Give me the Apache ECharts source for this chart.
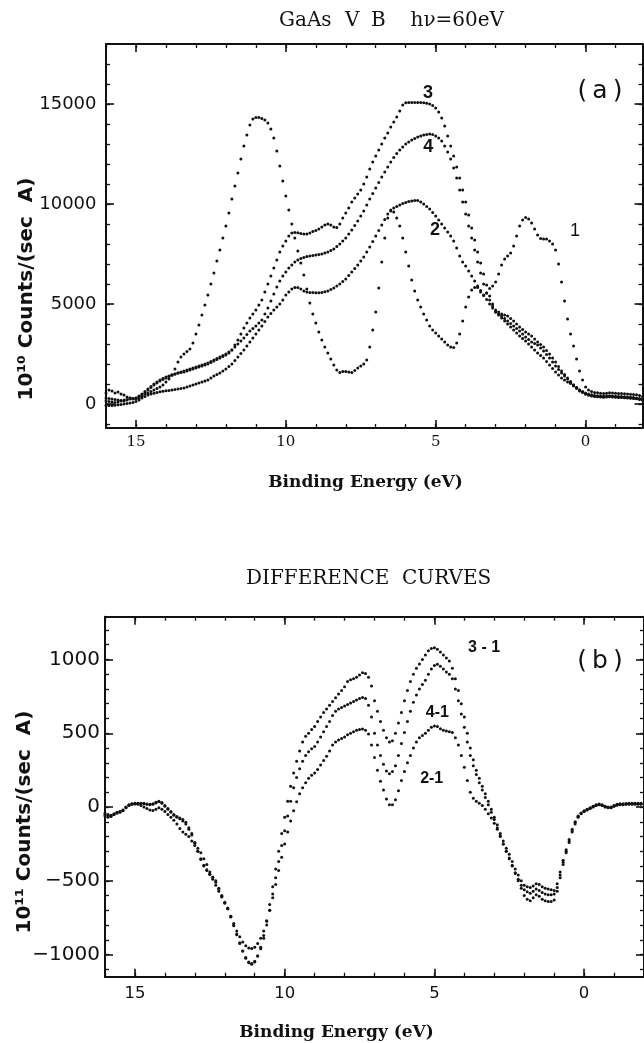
<!DOCTYPE html>
<html><head><meta charset="utf-8">
<script src="https://cdn.jsdelivr.net/npm/echarts@6/dist/echarts.min.js"></script>
<style>html,body{margin:0;padding:0;background:#fff}#chart{width:644px;height:1043px}</style>
</head><body><div id="chart"></div>
<script>
// Binding energy grid (eV), shared by every curve
const energy = [
 16.0,15.9,15.8,15.7,15.6,15.5,15.4,15.3,15.2,15.1,
 15.0,14.9,14.8,14.7,14.6,14.5,14.4,14.3,14.2,14.1,
 14.0,13.9,13.8,13.7,13.6,13.5,13.4,13.3,13.2,13.1,
 13.0,12.9,12.8,12.7,12.6,12.5,12.4,12.3,12.2,12.1,
 12.0,11.9,11.8,11.7,11.6,11.5,11.4,11.3,11.2,11.1,
 11.0,10.9,10.8,10.7,10.6,10.5,10.4,10.3,10.2,10.1,
 10.0,9.9,9.8,9.7,9.6,9.5,9.4,9.3,9.2,9.1,
 9.0,8.9,8.8,8.7,8.6,8.5,8.4,8.3,8.2,8.1,
 8.0,7.9,7.8,7.7,7.6,7.5,7.4,7.3,7.2,7.1,
 7.0,6.9,6.8,6.7,6.6,6.5,6.4,6.3,6.2,6.1,
 6.0,5.9,5.8,5.7,5.6,5.5,5.4,5.3,5.2,5.1,
 5.0,4.9,4.8,4.7,4.6,4.5,4.4,4.3,4.2,4.1,
 4.0,3.9,3.8,3.7,3.6,3.5,3.4,3.3,3.2,3.1,
 3.0,2.9,2.8,2.7,2.6,2.5,2.4,2.3,2.2,2.1,
 2.0,1.9,1.8,1.7,1.6,1.5,1.4,1.3,1.2,1.1,
 1.0,0.9,0.8,0.7,0.6,0.5,0.4,0.3,0.2,0.1,
 0.0,-0.1,-0.2,-0.3,-0.4,-0.5,-0.6,-0.7,-0.8,-0.9,
 -1.0,-1.1,-1.2,-1.3,-1.4,-1.5,-1.6,-1.7,-1.8,-1.9];

// (a) spectra, 10^10 counts/(sec A)
const curve1 = [
 550,700,650,550,600,500,450,350,300,250,
 300,380,450,500,550,620,700,780,850,950,
 1100,1250,1450,1750,2100,2350,2500,2620,2750,3050,
 3500,3950,4450,4950,5450,6000,6550,7150,7700,8300,
 8900,9550,10250,10900,11550,12250,12900,13450,13950,14250,
 14330,14320,14280,14200,14050,13750,13300,12650,11900,11150,
 10400,9700,9000,8300,7650,7050,6450,5750,5050,4500,
 4050,3600,3200,2850,2550,2250,1950,1700,1580,1620,
 1630,1600,1580,1680,1800,1900,2000,2200,2850,3700,
 4600,5800,7100,8300,9300,9700,9600,9300,8900,8300,
 7600,6900,6200,5650,5200,4850,4500,4200,3900,3700,
 3550,3400,3250,3100,2950,2850,2830,3050,3500,4150,
 4850,5350,5700,5830,5830,5600,5420,5550,5780,5900,
 6100,6500,6950,7250,7400,7550,7900,8400,8900,9200,
 9330,9250,9050,8750,8450,8280,8250,8250,8150,8000,
 7700,7000,6100,5150,4250,3500,2900,2250,1650,1200,
 850,700,620,580,560,540,520,540,560,550,
 540,530,520,510,500,490,480,460,430,380];
const curve2 = [
 -80,-80,-70,-60,-40,-20,0,20,50,80,
 120,200,300,380,450,500,540,580,610,640,
 660,680,700,720,750,780,800,850,900,950,
 1000,1050,1100,1150,1200,1300,1400,1480,1550,1650,
 1750,1870,2000,2170,2350,2520,2700,2900,3100,3300,
 3500,3700,3900,4120,4350,4520,4700,4850,5000,5200,
 5450,5600,5750,5830,5830,5750,5650,5600,5580,5570,
 5560,5560,5580,5610,5650,5720,5800,5900,6000,6120,
 6250,6420,6600,6770,6950,7150,7350,7600,7850,8120,
 8400,8680,8950,9230,9500,9650,9800,9880,9950,10020,
 10080,10120,10150,10180,10180,10100,10000,9880,9750,9580,
 9400,9200,9000,8800,8600,8400,8150,7800,7400,7100,
 6900,6650,6400,6150,5900,5680,5450,5220,5000,4800,
 4600,4450,4300,4150,4000,3850,3700,3550,3400,3280,
 3150,3000,2850,2700,2550,2420,2300,2120,1950,1780,
 1600,1450,1300,1200,1100,1020,950,820,700,600,
 500,450,400,380,360,350,340,350,360,350,
 340,330,320,310,300,290,280,260,230,200];
const curve3 = [
 300,280,250,220,200,170,150,200,300,280,
 250,300,400,550,700,820,950,1050,1150,1230,
 1300,1380,1450,1500,1550,1580,1600,1650,1700,1750,
 1800,1850,1900,1950,2000,2080,2150,2220,2300,2380,
 2450,2550,2700,2950,3200,3500,3800,4050,4300,4500,
 4700,4950,5200,5600,6000,6400,6800,7200,7600,7900,
 8150,8400,8550,8580,8560,8520,8500,8500,8550,8620,
 8680,8750,8850,8950,9000,8950,8850,8830,9000,9300,
 9550,9800,10100,10300,10500,10700,11000,11350,11750,12100,
 12400,12700,13000,13300,13550,13850,14100,14350,14650,14950,
 15060,15080,15080,15080,15080,15070,15060,15040,15000,14920,
 14800,14600,14300,13900,13400,12900,12400,11850,11300,10700,
 10100,9450,8800,8200,7600,7050,6500,5950,5400,5000,
 4600,4500,4400,4280,4150,4030,3900,3780,3650,3500,
 3350,3220,3100,3030,2950,2800,2650,2480,2300,2100,
 1900,1720,1550,1400,1250,1070,900,780,650,570,
 500,450,420,400,380,370,360,370,380,370,
 360,350,340,330,320,310,300,280,250,220];
const curve4 = [
 150,130,100,80,100,150,200,230,250,280,
 300,400,500,620,750,880,1000,1100,1200,1280,
 1350,1400,1450,1500,1550,1600,1650,1700,1750,1800,
 1850,1900,1950,2000,2050,2120,2200,2270,2350,2420,
 2500,2600,2700,2850,3000,3150,3300,3480,3650,3780,
 3900,4050,4200,4500,4800,5150,5500,5850,6150,6400,
 6600,6800,6950,7100,7200,7280,7330,7370,7400,7430,
 7450,7470,7500,7550,7600,7670,7750,7870,8000,8150,
 8300,8500,8700,8920,9150,9400,9650,9950,10250,10530,
 10800,11080,11350,11600,11850,12100,12330,12520,12700,12850,
 13000,13100,13200,13280,13350,13400,13450,13480,13500,13470,
 13400,13300,13150,12900,12600,12250,11800,11300,10700,10100,
 9500,8900,8300,7700,7100,6550,6000,5550,5200,4900,
 4700,4600,4500,4450,4400,4280,4150,4000,3850,3720,
 3600,3500,3400,3250,3100,2980,2850,2680,2500,2300,
 2100,1880,1650,1470,1300,1120,950,820,700,620,
 550,500,460,430,410,400,390,400,410,400,
 390,380,370,360,350,340,320,300,280,250];

// (b) difference curves, 10^11 counts/(sec A)
const diff31 = [
 -40,-50,-55,-45,-35,-30,-20,0,15,22,
 25,26,26,25,20,18,22,32,40,30,
 10,-10,-30,-50,-65,-75,-85,-103,-140,-180,
 -240,-300,-355,-400,-430,-455,-475,-500,-550,-600,
 -645,-685,-740,-800,-860,-920,-975,-1025,-1055,-1065,
 -1050,-1010,-950,-870,-770,-660,-540,-420,-300,-180,
 -70,40,140,230,310,380,440,480,500,525,
 545,580,610,640,665,690,715,740,766,790,
 815,850,862,870,880,895,910,905,880,820,
 720,650,580,520,470,440,450,500,570,640,
 720,790,850,900,940,970,1000,1030,1060,1075,
 1080,1070,1050,1030,1010,990,940,870,790,700,
 610,500,400,320,250,195,140,90,40,-15,
 -70,-120,-180,-230,-280,-320,-370,-420,-460,-500,
 -530,-540,-545,-535,-520,-525,-540,-550,-555,-560,
 -565,-520,-440,-360,-290,-220,-150,-100,-60,-40,
 -25,-15,-5,5,15,20,15,5,0,0,
 10,18,22,22,24,25,25,25,25,25];
const diff41 = [
 -50,-60,-60,-50,-40,-32,-22,-3,12,20,
 22,24,24,22,18,15,18,28,36,25,
 5,-15,-35,-55,-70,-80,-95,-115,-150,-190,
 -245,-300,-350,-395,-425,-455,-480,-510,-555,-605,
 -650,-690,-745,-805,-865,-925,-975,-1020,-1050,-1060,
 -1045,-1010,-960,-890,-800,-700,-590,-480,-370,-260,
 -160,-60,40,130,200,260,310,350,375,395,
 410,440,475,510,545,580,620,650,665,675,
 685,695,705,715,725,735,743,735,690,610,
 500,420,350,290,245,225,240,280,350,430,
 505,580,650,710,760,800,830,860,900,935,
 960,968,955,935,915,900,870,800,720,630,
 540,440,350,280,220,165,115,65,15,-35,
 -85,-140,-195,-250,-300,-345,-395,-445,-490,-530,
 -560,-575,-585,-570,-555,-565,-580,-590,-595,-595,
 -590,-545,-460,-375,-300,-230,-160,-105,-65,-42,
 -28,-18,-8,2,12,17,12,2,-3,-3,
 7,15,19,19,21,22,22,22,22,22];
const diff21 = [
 -60,-70,-65,-50,-40,-35,-25,-5,10,18,
 20,18,10,0,-10,-20,-24,-15,-5,-15,
 -30,-50,-70,-90,-115,-145,-170,-185,-200,-230,
 -260,-280,-310,-350,-390,-440,-490,-530,-570,-610,
 -650,-690,-740,-790,-840,-880,-915,-940,-955,-959,
 -950,-925,-890,-840,-775,-700,-615,-525,-430,-340,
 -250,-170,-95,-25,35,90,130,165,195,215,
 230,255,285,315,345,380,420,440,455,465,
 475,490,500,510,520,525,529,520,495,420,
 335,250,175,115,55,15,15,50,110,180,
 240,300,350,400,440,470,485,500,520,540,
 550,545,530,520,515,510,505,470,420,350,
 270,180,100,60,40,25,10,-15,-45,-75,
 -110,-150,-200,-250,-300,-350,-400,-450,-500,-550,
 -600,-625,-635,-615,-595,-605,-625,-635,-640,-640,
 -630,-570,-480,-390,-310,-240,-170,-115,-70,-45,
 -30,-20,-10,0,10,15,10,0,-5,-5,
 5,12,16,16,18,19,19,19,19,19];

// tick values
const xMajorTicks = [0, 5, 10, 15];
const topYMajorTicks = [0, 5000, 10000, 15000];
const botYMajorTicks = [-1000, -500, 0, 500, 1000];
function steps(a, b, s) { const r = []; for (let v = a; v <= b + 1e-9; v += s) r.push(Math.round(v * 1000) / 1000); return r; }
const xMinorTicks = steps(-1, 16, 1);
const topYMinorTicks = steps(-1000, 17000, 1000);
const botYMinorTicks = steps(-1100, 1200, 100);

// curve annotations (text + anchor in data coordinates)
const topCurveLabels = [
  {text: '3', at: [5.26, 15550], weight: 'bold'},
  {text: '4', at: [5.25, 12850], weight: 'bold'},
  {text: '2', at: [5.02, 8700], weight: 'bold'},
  {text: '1', at: [0.35, 8650], weight: 'normal'}
];
const botCurveLabels = [
  {text: '3 - 1', at: [3.34, 1078]},
  {text: '4-1', at: [4.90, 638]},
  {text: '2-1', at: [5.09, 190]}
];

const INK = '#111';
const SANS = '"DejaVu Sans", sans-serif';
const SERIF = '"DejaVu Serif", serif';
const ARIAL = '"Liberation Sans", Arial, sans-serif';
const fmt = v => (v < 0 ? '\u2212' + Math.abs(v) : String(v));

function xAxesFor(g, min, max, label) {
  const base = {type: 'value', gridIndex: g, min: min, max: max, inverse: true, splitLine: {show: false}, axisPointer: {show: false}};
  const frame = {show: true, onZero: false, lineStyle: {color: INK, width: 2}};
  const hidden = {show: false, onZero: false};
  const major = {show: true, inside: true, length: 8, customValues: xMajorTicks, lineStyle: {color: INK, width: 1.6}};
  const minor = {show: true, inside: true, length: 4, customValues: xMinorTicks, lineStyle: {color: INK, width: 1.3}};
  return [
    Object.assign({}, base, {position: 'bottom', axisLine: frame, axisTick: major,
      axisLabel: Object.assign({show: true, customValues: xMajorTicks, color: INK, formatter: fmt}, label)}),
    Object.assign({}, base, {position: 'bottom', axisLine: hidden, axisTick: minor, axisLabel: {show: false}}),
    Object.assign({}, base, {position: 'top', axisLine: frame, axisTick: major, axisLabel: {show: false}}),
    Object.assign({}, base, {position: 'top', axisLine: hidden, axisTick: minor, axisLabel: {show: false}})
  ];
}
function yAxesFor(g, min, max, majors, minors, label) {
  const base = {type: 'value', gridIndex: g, min: min, max: max, splitLine: {show: false}, axisPointer: {show: false}};
  const frame = {show: true, onZero: false, lineStyle: {color: INK, width: 2}};
  const hidden = {show: false, onZero: false};
  const major = {show: true, inside: true, length: 8, customValues: majors, lineStyle: {color: INK, width: 1.6}};
  const minor = {show: true, inside: true, length: 4, customValues: minors, lineStyle: {color: INK, width: 1.3}};
  return [
    Object.assign({}, base, {position: 'left', axisLine: frame, axisTick: major,
      axisLabel: Object.assign({show: true, customValues: majors, color: INK, formatter: fmt}, label)}),
    Object.assign({}, base, {position: 'left', axisLine: hidden, axisTick: minor, axisLabel: {show: false}}),
    Object.assign({}, base, {position: 'right', axisLine: frame, axisTick: major, axisLabel: {show: false}}),
    Object.assign({}, base, {position: 'right', axisLine: hidden, axisTick: minor, axisLabel: {show: false}})
  ];
}
function dots(values, xi, yi) {
  return {type: 'scatter', xAxisIndex: xi, yAxisIndex: yi, symbol: 'circle', symbolSize: 3,
    itemStyle: {color: INK, opacity: 1}, silent: true, z: 3,
    data: energy.map((e, i) => [e, values[i]])};
}
function labelSeries(list, xi, yi, fontSize) {
  return {type: 'scatter', xAxisIndex: xi, yAxisIndex: yi, symbolSize: 0, silent: true, z: 5,
    itemStyle: {color: INK, opacity: 1},
    data: list.map(l => ({value: l.at, name: l.text,
      label: {show: true, position: 'inside', formatter: '{b}', color: INK, opacity: 1,
        textBorderWidth: 0, textBorderColor: 'transparent', textShadowBlur: 0,
        fontFamily: ARIAL, fontSize: fontSize, fontWeight: l.weight || 'bold'}}))};
}
function txt(x, y, text, font, extra) {
  return Object.assign({type: 'text', x: x, y: y, silent: true,
    style: Object.assign({text: text, fill: INK, align: 'left', verticalAlign: 'middle'}, font)}, extra || {});
}

const chart = echarts.init(document.getElementById('chart'), null, {renderer: 'canvas'});
chart.setOption({
  animation: false,
  backgroundColor: '#fff',
  grid: [
    {left: 106, top: 44, width: 536.5, height: 384},
    {left: 105, top: 616.7, width: 543, height: 360}
  ],
  xAxis: [].concat(
    xAxesFor(0, -1.9, 16, {margin: 7, fontFamily: SERIF, fontSize: 15}),
    xAxesFor(1, -2, 16, {margin: 9, fontFamily: SANS, fontSize: 16.5})
  ),
  yAxis: [].concat(
    yAxesFor(0, -1200, 18000, topYMajorTicks, topYMinorTicks, {margin: 9.5, fontFamily: SANS, fontSize: 18}),
    yAxesFor(1, -1150, 1290, botYMajorTicks, botYMinorTicks, {margin: 5, fontFamily: SANS, fontSize: 20})
  ),
  series: [
    dots(curve1, 0, 0), dots(curve2, 0, 0), dots(curve3, 0, 0), dots(curve4, 0, 0),
    labelSeries(topCurveLabels, 0, 0, 18),
    dots(diff31, 4, 4), dots(diff41, 4, 4), dots(diff21, 4, 4),
    labelSeries(botCurveLabels, 4, 4, 16)
  ],
  graphic: [
    txt(279, 21, 'GaAs', {fontFamily: SERIF, fontSize: 20}),
    txt(345, 21, 'V', {fontFamily: SERIF, fontSize: 20}),
    txt(371, 21, 'B', {fontFamily: SERIF, fontSize: 20}),
    txt(410.5, 21, 'h\u03bd=60eV', {fontFamily: SERIF, fontSize: 20}),
    txt(600, 91, '(\u2009a\u2009)', {fontFamily: SANS, fontSize: 25, align: 'center'}),
    txt(365.5, 482.5, 'Binding Energy (eV)', {fontFamily: SERIF, fontSize: 17, fontWeight: 'bold', align: 'center'}),
    txt(27, 289, '10\u00b9\u2070 Counts/(sec  A)', {fontFamily: SANS, fontSize: 20, fontWeight: 'bold', align: 'center'}, {rotation: Math.PI / 2}),
    txt(246, 579, 'DIFFERENCE', {fontFamily: SERIF, fontSize: 20}),
    txt(402, 579, 'CURVES', {fontFamily: SERIF, fontSize: 20}),
    txt(600, 661, '(\u2009b\u2009)', {fontFamily: SANS, fontSize: 25, align: 'center'}),
    txt(336.5, 1033, 'Binding Energy (eV)', {fontFamily: SERIF, fontSize: 17, fontWeight: 'bold', align: 'center'}),
    txt(25, 822, '10\u00b9\u00b9 Counts/(sec  A)', {fontFamily: SANS, fontSize: 20, fontWeight: 'bold', align: 'center'}, {rotation: Math.PI / 2})
  ]
});
</script></body></html>
